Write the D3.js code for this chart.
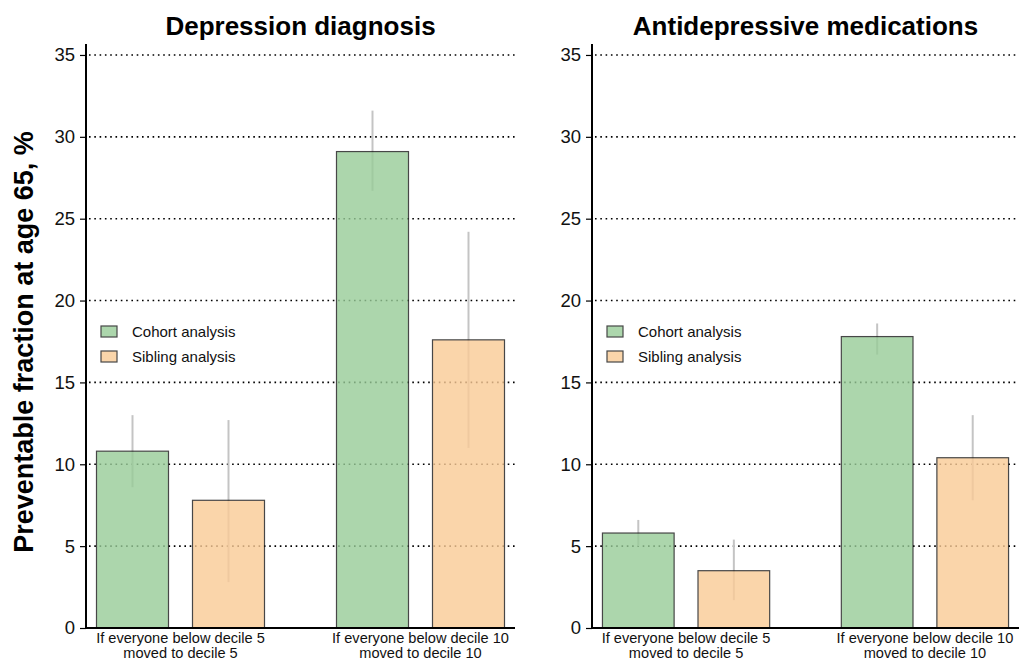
<!DOCTYPE html>
<html>
<head>
<meta charset="utf-8">
<script src="https://cdn.jsdelivr.net/npm/d3@7"></script>
<style>
  html, body { margin: 0; padding: 0; background: #fff; }
  svg { display: block; font-family: "Liberation Sans", Arial, Helvetica, sans-serif; }
</style>
</head>
<body>
<svg id="chart" width="1019" height="659"></svg>
<script>
// Scenario groups along the x axis
const scenarios = [
  ["If everyone below decile 5", "moved to decile 5"],
  ["If everyone below decile 10", "moved to decile 10"]
];
const seriesNames = ["Cohort analysis", "Sibling analysis"];
const seriesColors = ["#98cc98", "#facb96"];
const yTicks = [0, 5, 10, 15, 20, 25, 30, 35];

// Depression diagnosis: estimates and 95% CI per scenario
const depCohort = [10.8, 29.1];
const depCohortLo = [8.6, 26.7];
const depCohortHi = [13.0, 31.6];
const depSibling = [7.8, 17.6];
const depSiblingLo = [2.8, 11.0];
const depSiblingHi = [12.7, 24.2];

// Antidepressive medications: estimates and 95% CI per scenario
const medCohort = [5.8, 17.8];
const medCohortLo = [5.0, 16.7];
const medCohortHi = [6.6, 18.6];
const medSibling = [3.5, 10.4];
const medSiblingLo = [1.7, 7.8];
const medSiblingHi = [5.4, 13.0];

const panels = [
  { title: "Depression diagnosis", x0: 86, x1: 515,
    series: [
      { v: depCohort, lo: depCohortLo, hi: depCohortHi },
      { v: depSibling, lo: depSiblingLo, hi: depSiblingHi }
    ] },
  { title: "Antidepressive medications", x0: 592, x1: 1019,
    series: [
      { v: medCohort, lo: medCohortLo, hi: medCohortHi },
      { v: medSibling, lo: medSiblingLo, hi: medSiblingHi }
    ] }
];

const svg = d3.select("#chart");
const yBottom = 628, yTop = 44;
const y = d3.scaleLinear().domain([0, 35.67]).range([yBottom, yTop]);

panels.forEach(p => {
  const g = svg.append("g");
  const x = d3.scaleBand()
    .domain(d3.range(scenarios.length))
    .range([p.x0, p.x1])
    .paddingInner(0.3)
    .paddingOuter(0.04375);
  const xs = d3.scaleBand()
    .domain(d3.range(seriesNames.length))
    .range([0, x.bandwidth()])
    .paddingInner(0.25)
    .paddingOuter(0);

  // dotted gridlines
  g.append("g").selectAll("line")
    .data(yTicks.filter(t => t > 0))
    .join("line")
    .attr("x1", p.x0 + 3).attr("x2", p.x1)
    .attr("y1", d => y(d)).attr("y2", d => y(d))
    .attr("stroke", "#000")
    .attr("stroke-width", 1.6)
    .attr("stroke-dasharray", "1.6,3.7");

  // flattened records
  const recs = [];
  p.series.forEach((s, si) => {
    s.v.forEach((v, ci) => recs.push({ si, ci, v, lo: s.lo[ci], hi: s.hi[ci] }));
  });

  // confidence intervals
  g.append("g").selectAll("line")
    .data(recs)
    .join("line")
    .attr("x1", d => x(d.ci) + xs(d.si) + xs.bandwidth() / 2)
    .attr("x2", d => x(d.ci) + xs(d.si) + xs.bandwidth() / 2)
    .attr("y1", d => y(d.lo)).attr("y2", d => y(d.hi))
    .attr("stroke", "#c4c4c4")
    .attr("stroke-width", 2);

  // bars
  g.append("g").selectAll("rect")
    .data(recs)
    .join("rect")
    .attr("x", d => x(d.ci) + xs(d.si))
    .attr("width", xs.bandwidth())
    .attr("y", d => y(d.v))
    .attr("height", d => y(0) - y(d.v))
    .attr("fill", d => seriesColors[d.si])
    .attr("stroke", "#1a1a1a")
    .attr("stroke-width", 1.2)
    .attr("opacity", 0.8);

  // y axis
  const ya = g.append("g")
    .attr("transform", `translate(${p.x0},0)`)
    .call(d3.axisLeft(y).tickValues(yTicks).tickSize(6).tickPadding(5).tickSizeOuter(0));
  ya.select(".domain").attr("stroke-width", 2).attr("d", `M0,${yBottom}V${yTop}`);
  ya.selectAll(".tick line").attr("stroke-width", 1.2);
  ya.selectAll(".tick text").attr("font-size", 18.5).attr("fill", "#111")
    .attr("font-family", "Liberation Sans, Arial, sans-serif");

  // x axis baseline
  const xa = g.append("g")
    .attr("transform", `translate(0,${yBottom})`)
    .call(d3.axisBottom(x).tickSize(0).tickFormat(""));
  xa.select(".domain").attr("stroke-width", 2).attr("d", `M${p.x0},0H${p.x1}`);

  // scenario labels
  g.append("g").selectAll("text")
    .data(scenarios)
    .join("text")
    .attr("x", (d, i) => x(i) + x.bandwidth() / 2)
    .attr("y", 643)
    .attr("text-anchor", "middle")
    .attr("font-size", 14.6)
    .attr("fill", "#111")
    .selectAll("tspan")
    .data(d => d)
    .join("tspan")
    .attr("x", function () { return d3.select(this.parentNode).attr("x"); })
    .attr("dy", (d, i) => i === 0 ? 0 : 14.5)
    .text(d => d);

  // panel title
  g.append("text")
    .attr("x", (p.x0 + p.x1) / 2)
    .attr("y", 35)
    .attr("text-anchor", "middle")
    .attr("font-size", 26)
    .attr("font-weight", "bold")
    .attr("fill", "#000")
    .text(p.title);

  // legend
  const lg = g.append("g").attr("transform", `translate(${p.x0 + 15},331)`);
  seriesNames.forEach((name, i) => {
    lg.append("rect")
      .attr("x", 0).attr("y", i * 25 - 5)
      .attr("width", 16).attr("height", 11)
      .attr("fill", seriesColors[i])
      .attr("stroke", "#1a1a1a").attr("stroke-width", 1.2)
      .attr("opacity", 0.8);
    lg.append("text")
      .attr("x", 31).attr("y", i * 25 + 5.5)
      .attr("font-size", 15)
      .attr("fill", "#111")
      .text(name);
  });
});

// shared y-axis title
svg.append("text")
  .attr("transform", "translate(33,342) rotate(-90)")
  .attr("text-anchor", "middle")
  .attr("font-size", 27)
  .attr("font-weight", "bold")
  .attr("fill", "#000")
  .text("Preventable fraction at age 65, %");
</script>
</body>
</html>
